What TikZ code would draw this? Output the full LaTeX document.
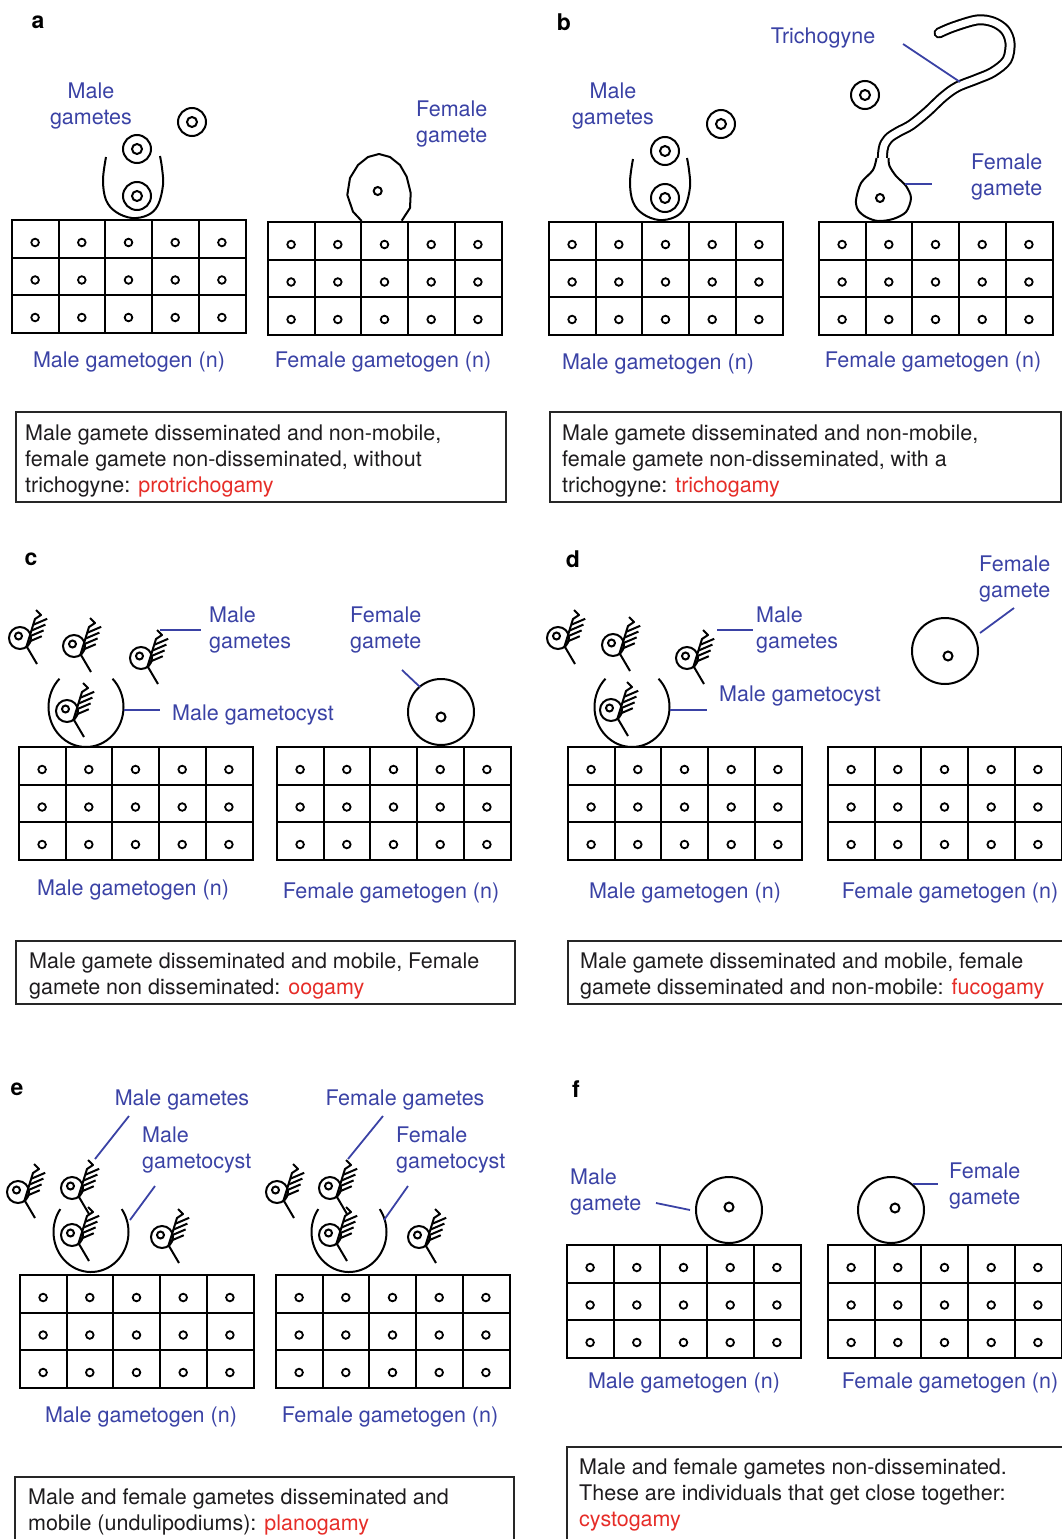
\documentclass[tikz,border=0pt]{standalone}
\usepackage{fontspec}
\setmainfont{TeX Gyre Heros}
\definecolor{labelblue}{RGB}{58,66,165}
\definecolor{termred}{RGB}{230,45,40}
\definecolor{boxblack}{RGB}{30,28,30}
\tikzset{
  ink/.style={line width=2pt, black},
  lead/.style={line width=1.8pt, labelblue},
  lbl/.style={text=labelblue, font=\fontsize{21.5}{26}\selectfont, inner sep=0pt, yshift=-2.5pt},
  lbll/.style={lbl, align=left, anchor=west},
  lblc/.style={lbl, align=center},
  boxtext/.style={text=boxblack, font=\fontsize{21.5}{26}\selectfont, inner sep=0pt, align=left, anchor=north west, yshift=-2pt},
  frame/.style={line width=1.4pt, black!85},
  letter/.style={font=\fontsize{23}{26}\selectfont\bfseries, inner sep=0pt, yshift=-2pt},
  tube/.style={line width=2pt, double=white, double distance=7pt, line cap=round, line join=round},
  % a 5 x 3 block of gametogen cells, origin at its top left corner
  gametogen/.pic={
    \draw[line width=2pt] (0,0) rectangle (233.5,112.5);
    \foreach \i in {1,2,3,4} \draw[line width=2pt] ({\i*46.7},0) -- ({\i*46.7},112.5);
    \foreach \j in {1,2} \draw[line width=2pt] (0,{\j*37.5}) -- (233.5,{\j*37.5});
    \foreach \i in {0,...,4} \foreach \j in {0,1,2}
      \draw[line width=1.8pt] ({23.1+\i*46.7},{22.5+\j*37.5}) circle[radius=3.8];
  },
  % non-mobile gamete: cell with a nucleus
  ringgamete/.pic={
    \draw[ink] (0,0) circle[radius=14];
    \draw[ink] (0,0) circle[radius=5];
  },
  % mobile gamete with a feathered undulipodium
  swimmer/.pic={
    \draw[ink] (0,0) circle[radius=11];
    \draw[ink] (-1.5,-2) circle[radius=3.5];
    \draw[ink] (7,9) -- (17,26);
    \draw[ink, line join=round] (6,10) -- (15,-19) -- (21,-23) -- (16,-28);
    \foreach \t in {0.2,0.4,0.6,0.8}
      \draw[ink] ({6+9*\t},{10-29*\t}) -- ++(14,-6);
  },
}
\begin{document}
\begin{tikzpicture}[x=1pt,y=-1pt]
\useasboundingbox (0,0) rectangle (1062,1539);
\clip (0,0) rectangle (1062,1539);

% ---------------- a: protrichogamy ----------------
\node[letter] (la) at (38,20) {a};
\pic (amale) at (12,220) {gametogen};
\pic (afem) at (268,222) {gametogen};
\node[lblc] (amg) at (91,104) {Male\\gametes};
\pic (ag1) at (192,122) {ringgamete};
\pic (ag2) at (137,149) {ringgamete};
\pic (ag3) at (137,196) {ringgamete};
\draw[ink] plot[smooth, tension=0.6] coordinates {(106,157) (103,180) (106,200) (116,212) (132,218) (148,215) (158,205) (163,185) (162,168) (160,156)};
\node[lbll] (afg) at (416,122) {Female\\gamete};
\draw[ink, fill=white, line join=round] (361.7,221) -- (353,211.7) -- (347.3,195) -- (350,178) -- (358,165) -- (368,157) -- (379,154) -- (390,157) -- (400,165) -- (406.7,176.7) -- (410.7,193) -- (410,208) -- (401.7,220.7);
\draw[ink] (377.7,191) circle[radius=4];
\node[lbl] (amgt) at (129,360) {Male gametogen (n)};
\node[lbl] (afgt) at (383,360) {Female gametogen (n)};
\draw[frame] (16,412) rectangle (506,502);
\node[boxtext] (ta) at (25,423) {Male gamete disseminated and non-mobile,\\female gamete non-disseminated, without\\trichogyne: \textcolor{termred}{protrichogamy}};

% ---------------- b: trichogamy ----------------
\node[letter] (lb) at (564,20) {b};
\pic (bmale) at (549,222) {gametogen};
\pic (bfem) at (819,222) {gametogen};
\node[lblc] (bmg) at (613,104) {Male\\gametes};
\pic (bg1) at (721,124) {ringgamete};
\pic (bg2) at (665,151) {ringgamete};
\pic (bg3) at (665,198) {ringgamete};
\draw[ink] plot[smooth, tension=0.6] coordinates {(633,159) (630,182) (633,202) (643,214) (659,220) (675,217) (685,207) (690,187) (689,170) (687,158)};
\pic (bg4) at (865,95) {ringgamete};
\node[lbl] (btri) at (823,36) {Trichogyne};
\draw[tube] plot[smooth, tension=0.55] coordinates {(882,178) (883,150) (888,139) (898,132) (911,125) (927,112) (943,97) (957,87) (977,79) (993,72) (1007,60) (1010,43) (1005,30) (993,22) (977,20) (953,27) (939,33)};
\draw[ink, fill=white] plot[smooth, tension=0.5] coordinates {(876.5,158) (873,170) (861,183) (856,200) (858,210) (866,217) (878,221) (893,219) (906,212) (911,198) (906,186) (896,176) (889.5,166) (888.5,158)};
\draw[ink] (880,198) circle[radius=4];
\node[lbll] (bfg) at (971,175) {Female\\gamete};
\coordinate (btA) at (903,44);
\coordinate (btB) at (960,82);
\draw[lead] (btA) -- (btB);
\coordinate (bfA) at (905,184);
\coordinate (bfB) at (932,184);
\draw[lead] (bfA) -- (bfB);
\node[lbl] (bmgt) at (658,362) {Male gametogen (n)};
\node[lbl] (bfgt) at (933,360) {Female gametogen (n)};
\draw[frame] (550,412) rectangle (1061,502);
\node[boxtext] (tb) at (562,423) {Male gamete disseminated and non-mobile,\\female gamete non-disseminated, with a\\trichogyne: \textcolor{termred}{trichogamy}};

% ---------------- c: oogamy ----------------
\node[letter] (lc) at (31,557) {c};
\pic (cmale) at (19,747) {gametogen};
\pic (cfem) at (277,747) {gametogen};
\pic (cs1) at (20,638) {swimmer};
\pic (cs2) at (74,646) {swimmer};
\pic (cs3) at (141,658) {swimmer};
\pic (cs4) at (67,711) {swimmer};
\draw[ink] (86,707) ++(225:37.5 and 40) arc[start angle=225, end angle=-45, x radius=37.5, y radius=40];
\draw[ink] (441,712) circle[radius=33];
\draw[ink] (441,717) circle[radius=4.5];
\node[lbll] (cmg) at (209,627) {Male\\gametes};
\node[lbll] (cfg) at (350,627) {Female\\gamete};
\node[lbl, anchor=west] (cmc) at (172,712) {Male gametocyst};
\coordinate (cmA) at (160,630);
\coordinate (cmB) at (201,630);
\draw[lead] (cmA) -- (cmB);
\coordinate (cfA) at (402,670);
\coordinate (cfB) at (420,687);
\draw[lead] (cfA) -- (cfB);
\coordinate (ccA) at (124,710);
\coordinate (ccB) at (160,710);
\draw[lead] (ccA) -- (ccB);
\node[lbl] (cmgt) at (133,887) {Male gametogen (n)};
\node[lbl] (cfgt) at (391,890) {Female gametogen (n)};
\draw[frame] (16,941) rectangle (515,1004);
\node[boxtext] (tc) at (29,951) {Male gamete disseminated and mobile, Female\\gamete non disseminated: \textcolor{termred}{oogamy}};

% ---------------- d: fucogamy ----------------
\node[letter] (ld) at (573,557) {d};
\pic (dmale) at (568,747) {gametogen};
\pic (dfem) at (828,747) {gametogen};
\pic (ds1) at (558,638) {swimmer};
\pic (ds2) at (613,645) {swimmer};
\pic (ds3) at (687,658) {swimmer};
\pic (ds4) at (611,710) {swimmer};
\draw[ink] (632,707) ++(225:37.5 and 40) arc[start angle=225, end angle=-45, x radius=37.5, y radius=40];
\draw[ink] (945,651) circle[radius=33];
\draw[ink] (948,656) circle[radius=4.5];
\node[lbll] (dmg) at (756,627) {Male\\gametes};
\node[lbl, anchor=west] (dmc) at (719,693) {Male gametocyst};
\node[lbll] (dfg) at (979,576) {Female\\gamete};
\coordinate (dmA) at (717,630);
\coordinate (dmB) at (753,630);
\draw[lead] (dmA) -- (dmB);
\coordinate (dcA) at (670,710);
\coordinate (dcB) at (707,710);
\draw[lead] (dcA) -- (dcB);
\coordinate (dfA) at (980,633);
\coordinate (dfB) at (1014,608);
\draw[lead] (dfA) -- (dfB);
\node[lbl] (dmgt) at (685,890) {Male gametogen (n)};
\node[lbl] (dfgt) at (950,890) {Female gametogen (n)};
\draw[frame] (568,941) rectangle (1066,1004);
\node[boxtext] (td) at (580,951) {Male gamete disseminated and mobile, female\\gamete disseminated and non-mobile: \textcolor{termred}{fucogamy}};

% ---------------- e: planogamy ----------------
\node[letter] (le) at (17,1087) {e};
\pic (emale) at (20,1275) {gametogen};
\pic (efem) at (276,1275) {gametogen};
\pic (es1) at (18,1192) {swimmer};
\pic (es2) at (72,1188) {swimmer};
\pic (es3) at (72,1235) {swimmer};
\pic (es4) at (162,1237) {swimmer};
\pic (es5) at (277,1192) {swimmer};
\pic (es6) at (330,1188) {swimmer};
\pic (es7) at (330,1235) {swimmer};
\pic (es8) at (419,1237) {swimmer};
\draw[ink] (91,1232) ++(215:37.5 and 40) arc[start angle=215, end angle=-35, x radius=37.5, y radius=40];
\draw[ink] (349,1232) ++(215:37.5 and 40) arc[start angle=215, end angle=-35, x radius=37.5, y radius=40];
\node[lbl] (emg) at (182,1097) {Male gametes};
\node[lbll] (emc) at (142,1147) {Male\\gametocyst};
\node[lbl] (efg) at (405,1097) {Female gametes};
\node[lbll] (efc) at (396,1147) {Female\\gametocyst};
\coordinate (emA) at (129,1116);
\coordinate (emB) at (95,1159);
\draw[lead] (emA) -- (emB);
\coordinate (efA) at (383,1116);
\coordinate (efB) at (348,1159);
\draw[lead] (efA) -- (efB);
\coordinate (ecA) at (155,1186);
\coordinate (ecB) at (130,1220);
\draw[lead] (ecA) -- (ecB);
\coordinate (edA) at (408,1186);
\coordinate (edB) at (384,1220);
\draw[lead] (edA) -- (edB);
\node[lbl] (emgt) at (141,1414) {Male gametogen (n)};
\node[lbl] (efgt) at (390,1414) {Female gametogen (n)};
\draw[frame] (15,1477) rectangle (514,1550);
\node[boxtext] (te) at (28,1487) {Male and female gametes disseminated and\\mobile (undulipodiums): \textcolor{termred}{planogamy}};

% ---------------- f: cystogamy ----------------
\node[letter] (lf) at (576,1087) {f};
\pic (fmale) at (567,1245) {gametogen};
\pic (ffem) at (828,1245) {gametogen};
\draw[ink] (729,1210) circle[radius=33];
\draw[ink] (729,1207) circle[radius=4.5];
\draw[ink] (891,1210) circle[radius=33];
\draw[ink] (895,1208) circle[radius=4.5];
\node[lbll] (fmg) at (570,1189) {Male\\gamete};
\node[lbll] (ffg) at (949,1183) {Female\\gamete};
\coordinate (fmA) at (656,1203);
\coordinate (fmB) at (690,1210);
\draw[lead] (fmA) -- (fmB);
\coordinate (ffA) at (913,1184);
\coordinate (ffB) at (938,1184);
\draw[lead] (ffA) -- (ffB);
\node[lbl] (fmgt) at (684,1380) {Male gametogen (n)};
\node[lbl] (ffgt) at (950,1380) {Female gametogen (n)};
\draw[frame] (567,1447) rectangle (1066,1550);
\node[boxtext] (tf) at (579,1457) {Male and female gametes non-disseminated.\\These are individuals that get close together:\\\textcolor{termred}{cystogamy}};
\end{tikzpicture}
\end{document}
